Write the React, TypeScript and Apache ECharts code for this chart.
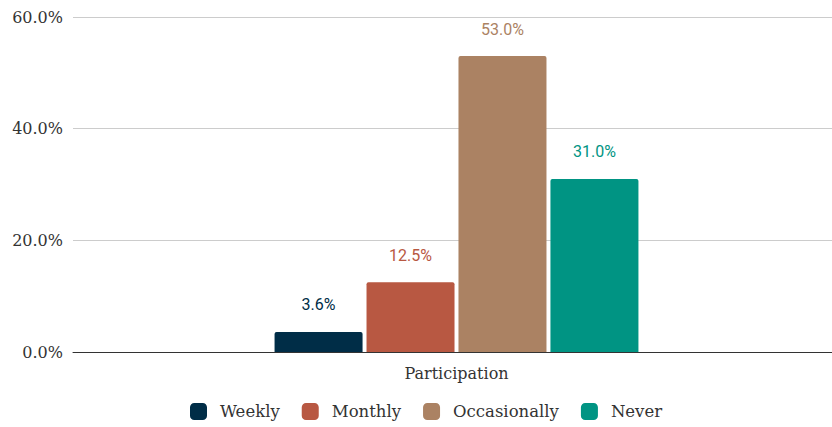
import React, { useEffect, useRef } from "react";
import * as echarts from "echarts";

const categories = ["Participation"];
const seriesNames = ["Weekly", "Monthly", "Occasionally", "Never"];
const seriesValues = [[3.6], [12.5], [53.0], [31.0]];
const seriesColors = ["#002d47", "#b85842", "#ab8263", "#009483"];
const yTicks = [0, 20, 40, 60];

export default function App() {
  const ref = useRef<HTMLDivElement>(null);
  useEffect(() => {
    document.body.style.margin = "0";
    const chart = echarts.init(ref.current!, null, { renderer: "svg" });
    const serif = "'DejaVu Serif', 'Liberation Serif', serif";
    chart.setOption({
      animation: false,
      grid: { left: 73, right: 0, top: 17, bottom: 75, containLabel: false },
      legend: {
        bottom: 2,
        left: 185,
        itemWidth: 17,
        itemHeight: 17,
        itemGap: 22,
        icon: "roundRect",
        textStyle: { fontFamily: serif, fontSize: 16.5, color: "#333", padding: [0, 0, 0, 8] },
        data: seriesNames,
      },
      xAxis: {
        type: "category",
        data: categories,
        axisTick: { show: false },
        axisLine: { lineStyle: { color: "#333", width: 1 } },
        axisLabel: { fontFamily: serif, fontSize: 16, color: "#333", margin: 13 },
      },
      yAxis: {
        type: "value",
        min: yTicks[0],
        max: yTicks[yTicks.length - 1],
        interval: 20,
        axisLabel: {
          fontFamily: serif,
          fontSize: 16,
          color: "#333",
          margin: 10,
          formatter: (v: number) => v.toFixed(1) + "%",
        },
        splitLine: { lineStyle: { color: "#cccccc" } },
      },
      series: seriesNames.map((name, i) => ({
        name,
        type: "bar",
        data: seriesValues[i],
        barWidth: 88,
        barGap: "4.5%",
        itemStyle: { color: seriesColors[i], borderRadius: [2, 2, 0, 0] },
        label: {
          show: true,
          position: "top",
          distance: 19,
          fontFamily: "Roboto, 'Liberation Sans', Arial, sans-serif",
          fontSize: 16,
          color: seriesColors[i],
          formatter: (p: any) => p.value.toFixed(1) + "%",
        },
      })),
    });
    return () => chart.dispose();
  }, []);
  return (
    <div style={{ width: 832, height: 427, overflow: "hidden" }}>
      <div ref={ref} style={{ width: 840, height: 427 }} />
    </div>
  );
}
